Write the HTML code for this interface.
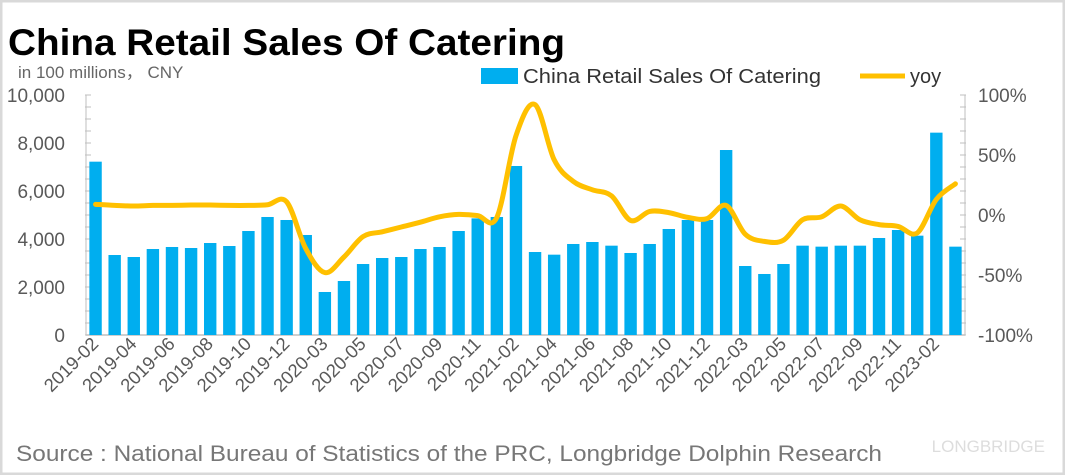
<!DOCTYPE html>
<html><head><meta charset="utf-8"><style>
html,body{margin:0;padding:0;background:#fff}
svg{display:block;font-family:"Liberation Sans","Noto Sans CJK SC",sans-serif}
</style></head><body>
<svg id="chart" width="1065" height="475" viewBox="0 0 1065 475">
<rect x="1" y="1" width="1063" height="473" fill="#fff" stroke="#d9d9d9" stroke-width="3"/>
<text x="8" y="55" font-size="37" font-weight="bold" fill="#000" textLength="557" lengthAdjust="spacingAndGlyphs">China Retail Sales Of Catering</text>
<text x="18" y="78" font-size="17" fill="#666">in 100 millions， CNY</text>
<g>
<rect x="481" y="68" width="37" height="16" fill="#00AEEF"/>
<text x="523" y="83" font-size="20" fill="#333" textLength="298" lengthAdjust="spacingAndGlyphs">China Retail Sales Of Catering</text>
<line x1="860" y1="76" x2="905" y2="76" stroke="#FFC000" stroke-width="5"/>
<text x="910" y="83" font-size="20" fill="#333">yoy</text>
</g>
<g id="axes"></g>
<g id="bars"></g>
<g id="line"></g>
<g id="xlabels"></g>
<text x="16" y="461" font-size="22" fill="#777" textLength="866" lengthAdjust="spacingAndGlyphs">Source : National Bureau of Statistics of the PRC, Longbridge Dolphin Research</text>
<text x="1045" y="452" font-size="17" fill="#ddd" text-anchor="end">LONGBRIDGE</text>
</svg>
<script>
const categories=["2019-02","2019-03","2019-04","2019-05","2019-06","2019-07","2019-08","2019-09","2019-10","2019-11","2019-12",
"2020-02","2020-03","2020-04","2020-05","2020-06","2020-07","2020-08","2020-09","2020-10","2020-11","2020-12",
"2021-02","2021-03","2021-04","2021-05","2021-06","2021-07","2021-08","2021-09","2021-10","2021-11","2021-12",
"2022-02","2022-03","2022-04","2022-05","2022-06","2022-07","2022-08","2022-09","2022-10","2022-11","2022-12",
"2023-02","2023-03"];
const sales=[7222,3333,3250,3583,3667,3625,3833,3708,4333,4917,4792,
4167,1792,2250,2958,3208,3250,3583,3667,4333,4860,4917,
7042,3458,3347,3792,3875,3722,3417,3792,4417,4792,4792,
7708,2875,2542,2958,3722,3681,3722,3722,4042,4375,4139,
8431,3681];
const yoy=[8.9,8,7.5,8,8,8.3,8.3,8,8,8.5,11,
-28,-48,-35,-18,-14,-10,-6,-1.5,0.5,-0.5,-2,
66,92,46,28,21,16,-4.5,3,2,-2,-3,
8,-16,-22,-21,-4,-1.5,7.5,-4,-8,-9.5,-15,
13,26];
const leftTicks=[0,2000,4000,6000,8000,10000];
const leftTickLabels=["0","2,000","4,000","6,000","8,000","10,000"];
const rightTicks=[-100,-50,0,50,100];
const rightTickLabels=["-100%","-50%","0%","50%","100%"];

const NS="http://www.w3.org/2000/svg";
const X0=86,X1=965,Y0=95,Y1=335;
const bw=(X1-X0)/categories.length;
const xc=i=>X0+bw*(i+0.5);
const yL=v=>Y1-(v/10000)*(Y1-Y0);
const yR=v=>Y1-((v+100)/200)*(Y1-Y0);
function mk(tag,attrs,parent){const e=document.createElementNS(NS,tag);for(const k in attrs)e.setAttribute(k,attrs[k]);parent.appendChild(e);return e;}
const axes=document.getElementById('axes');
const la=mk('line',{x1:X0,y1:Y0,x2:X0,y2:Y1,stroke:'#bfbfbf'},axes);


const ra=mk('line',{x1:X1,y1:Y0,x2:X1,y2:Y1,stroke:'#bfbfbf'},axes);


const ba=mk('line',{x1:X0,y1:Y1,x2:X1,y2:Y1,stroke:'#bfbfbf',"stroke-width":1.5},axes);


for(let v=0;v<=10000;v+=500){mk('line',{x1:X0-1,y1:yL(v),x2:X0+5,y2:yL(v),stroke:'#bfbfbf'},axes);}
for(let v=-100;v<=100;v+=10){mk('line',{x1:X1-5,y1:yR(v),x2:X1+1,y2:yR(v),stroke:'#bfbfbf'},axes);}
leftTicks.forEach((v,i)=>{const t=mk('text',{x:65,y:yL(v)+7,"font-size":19,fill:'#595959',"text-anchor":'end'},axes);t.textContent=leftTickLabels[i];

});
rightTicks.forEach((v,i)=>{const t=mk('text',{x:978,y:yR(v)+7,"font-size":19,fill:'#595959'},axes);t.textContent=rightTickLabels[i];

});
const bars=document.getElementById('bars');
sales.forEach((v,i)=>{const r=mk('rect',{x:xc(i)-6.2,y:yL(v),width:12.4,height:Y1-yL(v),fill:'#00AEEF'},bars);

});
const pts=yoy.map((v,i)=>[xc(i),yR(v)]);
let d=`M${pts[0][0]},${pts[0][1]}`;
for(let i=0;i<pts.length-1;i++){const p0=pts[i-1]||pts[i],p1=pts[i],p2=pts[i+1],p3=pts[i+2]||p2;
const c1=[p1[0]+(p2[0]-p0[0])/6,p1[1]+(p2[1]-p0[1])/6],c2=[p2[0]-(p3[0]-p1[0])/6,p2[1]-(p3[1]-p1[1])/6];
d+=` C${c1[0]},${c1[1]} ${c2[0]},${c2[1]} ${p2[0]},${p2[1]}`;}
const path=mk('path',{d:d,fill:'none',stroke:'#FFC000',"stroke-width":5,"stroke-linejoin":'round',"stroke-linecap":'round'},document.getElementById('line'));


const xl=document.getElementById('xlabels');
const labelIdx=[0,2,4,6,8,10,12,14,16,18,20,22,24,26,28,30,32,34,36,38,40,42,44];
labelIdx.forEach(i=>{const x=xc(i)+4,y=345;const t=mk('text',{x:x,y:y,"font-size":18.5,fill:'#595959',"text-anchor":'end',transform:`rotate(-45 ${x} ${y})`},xl);
t.textContent=categories[i];

});
</script>
</body></html>
